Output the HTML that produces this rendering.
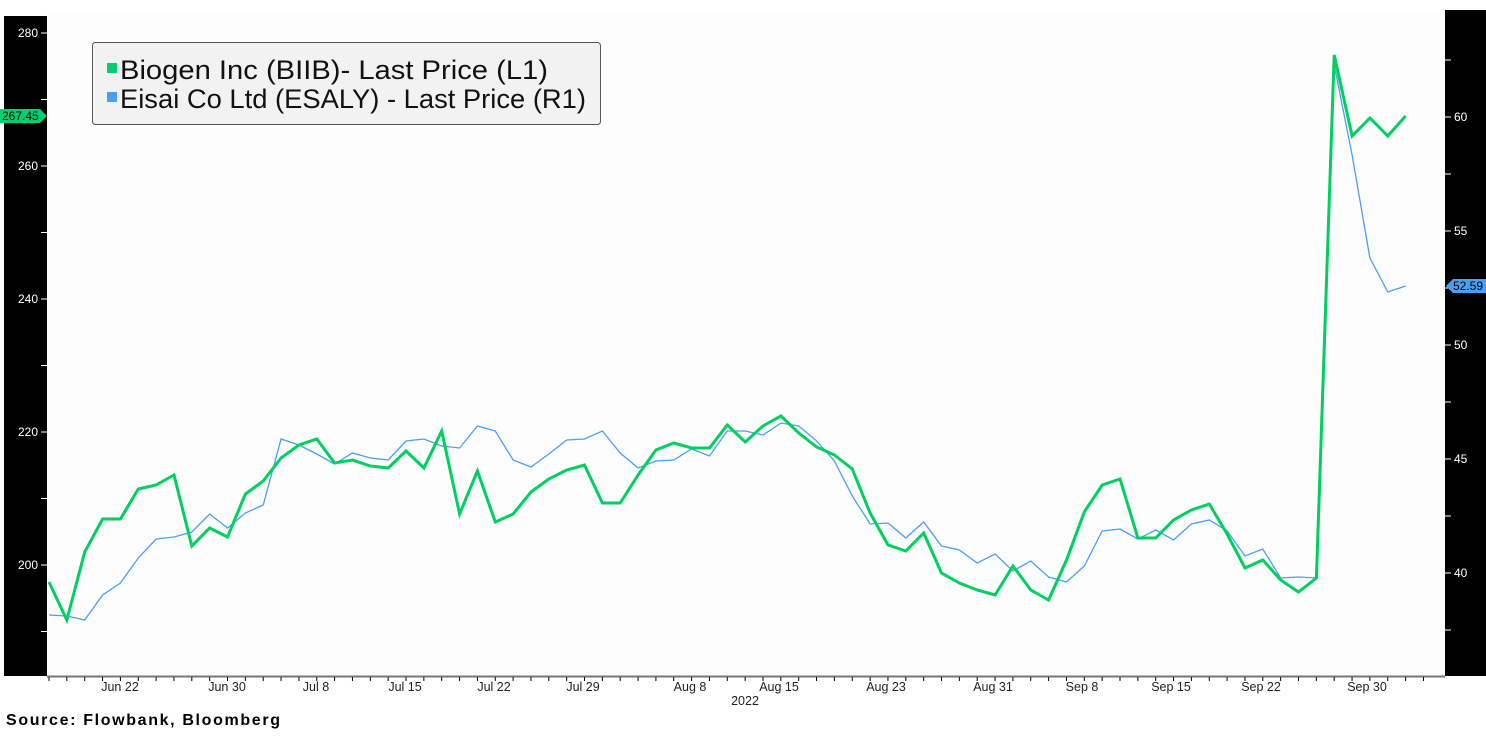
<!DOCTYPE html>
<html><head><meta charset="utf-8"><style>
body{margin:0;background:#fff;width:1486px;height:732px;overflow:hidden;font-family:"Liberation Sans",sans-serif}
</style></head><body>
<svg id="s" width="1486" height="732" xmlns="http://www.w3.org/2000/svg" font-family="Liberation Sans, sans-serif">
<rect x="0" y="0" width="1486" height="732" fill="#fff"/>
<rect x="47" y="10" width="1398" height="666" fill="#fdfdfd"/>
<rect x="4" y="16" width="43" height="660" fill="#000"/>
<rect x="1445" y="10" width="41" height="666" fill="#000"/>
<line x1="47" y1="676.5" x2="1445" y2="676.5" stroke="#777" stroke-width="2"/>
<g id="ticks"></g>
<g font-size="12" fill="#fff">
<text x="38" y="37" text-anchor="end">280</text>
<text x="38" y="170" text-anchor="end">260</text>
<text x="38" y="303" text-anchor="end">240</text>
<text x="38" y="436" text-anchor="end">220</text>
<text x="38" y="569" text-anchor="end">200</text>
<text x="1454" y="121">60</text>
<text x="1454" y="235">55</text>
<text x="1454" y="349">50</text>
<text x="1454" y="463">45</text>
<text x="1454" y="577">40</text>
</g>
<g font-size="12.5" fill="#222" text-anchor="middle">
<text x="120" y="691">Jun 22</text><text x="227" y="691">Jun 30</text><text x="316" y="691">Jul 8</text>
<text x="405" y="691">Jul 15</text><text x="494" y="691">Jul 22</text><text x="583" y="691">Jul 29</text>
<text x="690" y="691">Aug 8</text><text x="779" y="691">Aug 15</text><text x="886" y="691">Aug 23</text>
<text x="993" y="691">Aug 31</text><text x="1082" y="691">Sep 8</text><text x="1171" y="691">Sep 15</text>
<text x="1261" y="691">Sep 22</text><text x="1367" y="691">Sep 30</text>
<text x="745" y="705">2022</text>
</g>
<text x="6" y="725" font-size="16" font-weight="bold" fill="#000" textLength="274" lengthAdjust="spacing">Source: Flowbank, Bloomberg</text>
<polyline id="blue" fill="none" stroke="#4a9ff5" stroke-width="1.3"/>
<polyline id="green" fill="none" stroke="#00d060" stroke-width="3" stroke-linejoin="miter"/>
<rect x="92.5" y="42.5" width="508" height="82" rx="3" fill="#f2f2f2" stroke="#555" stroke-width="1"/>
<rect x="107" y="63" width="10" height="10" fill="#00d070"/>
<rect x="107" y="92" width="10" height="10" fill="#4a9ff5"/>
<text x="120" y="79" font-size="27" fill="#111" textLength="428" lengthAdjust="spacingAndGlyphs">Biogen Inc (BIIB)- Last Price (L1)</text>
<text x="120" y="108" font-size="27" fill="#111" textLength="466" lengthAdjust="spacingAndGlyphs">Eisai Co Ltd (ESALY) - Last Price (R1)</text>
<polygon points="0,109 40,109 47,116 40,123 0,123" fill="#00d070"/>
<text x="2" y="120" font-size="12" fill="#000">267.45</text>
<polygon points="1446,286 1453,279 1486,279 1486,293 1453,293" fill="#4a9ff5"/>
<text x="1453" y="290" font-size="12" fill="#000">52.59</text>
</svg>
<script>
var g=[582,620,552,519,519,489,485,475,546,528,537,494,481,458,445,439,463,460,466,468,451,468,431,514,471,522,514,492,479,470,465,503,503,475,450,443,448,448,425,442,426,416,433,447,455,469,513,545,551,533,573,583,590,595,566,590,600,560,512,485,479,538,538,520,510,504,534,568,560,580,592,578,55,136,118,136,116];
var b=[615,616,620,595,583,558,539,537,532,514,528,513,505,439,445,454,464,453,458,460,441,439,446,448,426,431,460,467,454,440,439,431,453,468,461,460,449,456,431,431,435,423,426,441,461,496,524,523,538,522,546,550,563,554,571,561,577,582,566,531,529,539,530,540,524,520,531,556,549,578,577,578,65,155,258,292,286];
function pts(a){return a.map(function(y,i){return (49+i*17.85).toFixed(1)+","+y}).join(" ")}
document.getElementById("green").setAttribute("points",pts(g));
document.getElementById("blue").setAttribute("points",pts(b));
var t="";
for(var i=0;i<78;i++){var x=49+i*17.85;t+='<line x1="'+x+'" y1="677" x2="'+x+'" y2="681" stroke="#000" stroke-width="1"/>';}
[33,99.5,166,232.5,299,365.5,432,498.5,565,631.5].forEach(function(y){t+='<line x1="41" y1="'+y+'" x2="47" y2="'+y+'" stroke="#fff"/>';});
[60,117,174,231,288,345,402,459,516,573,630].forEach(function(y){t+='<line x1="1445" y1="'+y+'" x2="1451" y2="'+y+'" stroke="#fff"/>';});
document.getElementById("ticks").innerHTML=t;
</script>
</body></html>
